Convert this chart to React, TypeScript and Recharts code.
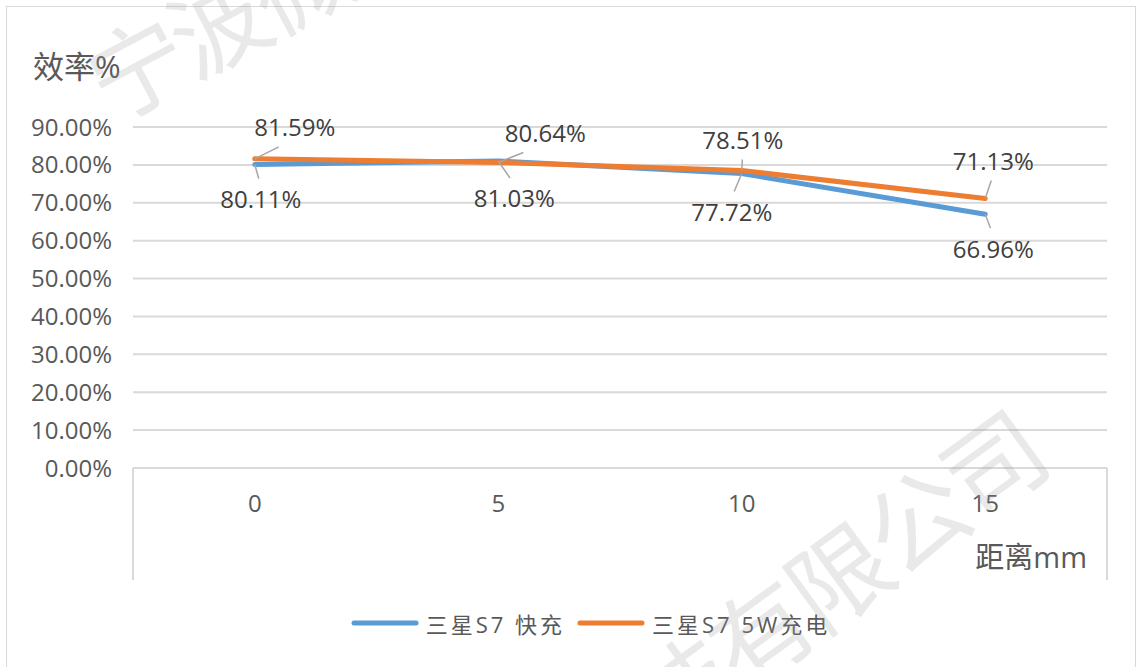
import React from "react";
import { LineChart, Line, XAxis, YAxis, CartesianGrid, Legend, LabelList } from "recharts";

const FONT = "'Open Sans', 'Noto Sans CJK SC', sans-serif";

// chart values
const distances = ["0", "5", "10", "15"];
const fastCharge = [80.11, 81.03, 77.72, 66.96];
const charge5W = [81.59, 80.64, 78.51, 71.13];
const yTicks = [0, 10, 20, 30, 40, 50, 60, 70, 80, 90];
const seriesNames = ["三星S7 快充", "三星S7 5W充电"];
const seriesColors = ["#5B9BD5", "#ED7D31"];

// where Excel put each data label, relative to its point
const fastLabelOffsets = [[6, 34], [16, 37], [-10, 38], [8, 34]];
const w5LabelOffsets = [[40, -32], [47, -30], [1, -31], [8, -38]];

const data = distances.map((d, i) => ({ distance: d, fast: fastCharge[i], w5: charge5W[i] }));

// data label with a short leader line, like Excel
const makeLabel = (offsets: number[][]) => (props: any) => {
  const { x, y, value, index } = props;
  const [dx, dy] = offsets[index];
  const lx = x + dx;
  const ly = y + dy;
  const endY = ly - Math.sign(dy) * 20;
  const t = Math.min(1, ((endY - y) / dy) * 1.6);
  const endX = x + dx * t;
  return (
    <g>
      <line x1={x} y1={y} x2={endX} y2={endY} stroke="#a6a6a6" strokeWidth={1.5} />
      <text
        x={lx}
        y={ly}
        textAnchor="middle"
        dominantBaseline="central"
        fontFamily={FONT}
        fontSize={24}
        fill="#404040"
      >
        {Number(value).toFixed(2)}%
      </text>
    </g>
  );
};

// category tick, plus the box lines on both ends of the axis
const CategoryTick = (props: any) => {
  const { x, y, payload, index, width, height } = props;
  const band = width / distances.length;
  return (
    <g>
      <text x={x} y={y + 44} textAnchor="middle" fontFamily={FONT} fontSize={24} fill="#595959">
        {payload.value}
      </text>
      {index === 0 && <line x1={x - band / 2} y1={y} x2={x - band / 2} y2={y + height} stroke="#d9d9d9" strokeWidth={2} />}
      {index === distances.length - 1 && (
        <line x1={x + band / 2} y1={y} x2={x + band / 2} y2={y + height} stroke="#d9d9d9" strokeWidth={2} />
      )}
    </g>
  );
};

const renderLegend = () => (
  <div
    style={{
      display: "flex",
      justifyContent: "center",
      alignItems: "center",
      height: 30,
      paddingLeft: 40,
      fontFamily: FONT,
      fontSize: 22,
      color: "#595959",
      letterSpacing: 3,
    }}
  >
    {seriesNames.map((name, i) => (
      <div key={name} style={{ display: "flex", alignItems: "center", margin: "0 6px" }}>
        <svg width={68} height={8}>
          <line x1={3} y1={4} x2={65} y2={4} stroke={seriesColors[i]} strokeWidth={5} strokeLinecap="round" />
        </svg>
        <span style={{ marginLeft: 7, whiteSpace: "nowrap" }}>{name}</span>
      </div>
    ))}
  </div>
);

export default function App() {
  return (
    <div
      style={{
        position: "absolute",
        left: 0,
        top: 0,
        width: 1141,
        height: 667,
        overflow: "hidden",
        background: "#fff",
      }}
    >
      <div
        style={{
          position: "absolute",
          left: 6,
          top: 6,
          width: 1128,
          height: 720,
          border: "1.5px solid #d9d9d9",
        }}
      />
      <LineChart width={1141} height={667} data={data} margin={{ top: 127, right: 34, bottom: 57, left: 13 }}>
        <CartesianGrid vertical={false} stroke="#d9d9d9" strokeWidth={2} />
        <XAxis
          dataKey="distance"
          scale="band"
          height={112}
          tickSize={0}
          tickMargin={0}
          tickLine={false}
          axisLine={{ stroke: "#d9d9d9", strokeWidth: 2 }}
          tick={<CategoryTick />}
          label={{
            content: (p: any) => (
              <text
                x={p.viewBox.x + p.viewBox.width - 20}
                y={p.viewBox.y + 100}
                textAnchor="end"
                fontFamily={FONT}
                fontSize={29}
                fill="#595959"
              >
                距离mm
              </text>
            ),
          }}
        />
        <YAxis
          type="number"
          domain={[0, 90]}
          ticks={yTicks}
          width={120}
          axisLine={false}
          tickLine={false}
          tickSize={0}
          tickMargin={21}
          tick={{ fontFamily: FONT, fontSize: 24, fill: "#595959" }}
          tickFormatter={(v: number) => `${v.toFixed(2)}%`}
          label={{
            content: (p: any) => (
              <text x={p.viewBox.x + 20} y={p.viewBox.y - 49} fontFamily={FONT} fontSize={31} fill="#595959">
                效率%
              </text>
            ),
          }}
        />
        <Legend verticalAlign="bottom" wrapperStyle={{ top: 608, left: 0, width: 1141 }} content={renderLegend} />
        <Line
          type="linear"
          dataKey="fast"
          name={seriesNames[0]}
          stroke={seriesColors[0]}
          strokeWidth={5}
          strokeLinecap="round"
          strokeLinejoin="round"
          dot={false}
          activeDot={false}
          isAnimationActive={false}
        >
          <LabelList dataKey="fast" content={makeLabel(fastLabelOffsets)} />
        </Line>
        <Line
          type="linear"
          dataKey="w5"
          name={seriesNames[1]}
          stroke={seriesColors[1]}
          strokeWidth={5}
          strokeLinecap="round"
          strokeLinejoin="round"
          dot={false}
          activeDot={false}
          isAnimationActive={false}
        >
          <LabelList dataKey="w5" content={makeLabel(w5LabelOffsets)} />
        </Line>
      </LineChart>
      {/* faint watermark over the chart */}
      <svg
        width={1141}
        height={667}
        style={{ position: "absolute", left: 0, top: 0, pointerEvents: "none" }}
      >
        <text
          x={112}
          y={124}
          transform="rotate(-28, 112, 124)"
          fontFamily="'Noto Sans CJK SC', sans-serif"
          fontSize={98}
          letterSpacing={-6}
          fill="#9a9a9a"
          fillOpacity={0.22}
        >
          宁波微
        </text>
        <text
          x={588}
          y={806}
          transform="rotate(-36, 588, 806)"
          fontFamily="'Noto Sans CJK SC', sans-serif"
          fontSize={100}
          letterSpacing={-4}
          fill="#9a9a9a"
          fillOpacity={0.22}
        >
          科技有限公司
        </text>
      </svg>
    </div>
  );
}
